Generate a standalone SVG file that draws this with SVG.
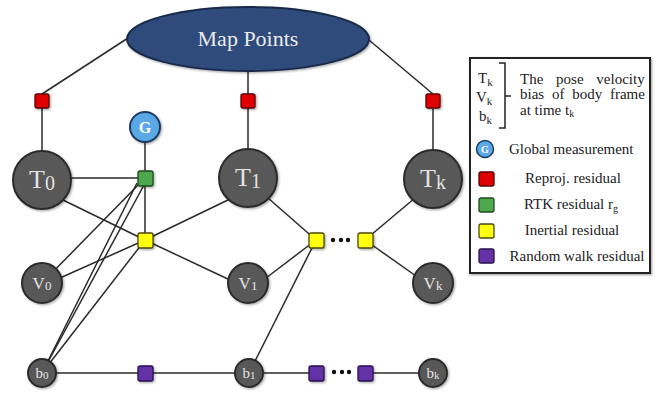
<svg xmlns="http://www.w3.org/2000/svg" width="662" height="397" viewBox="0 0 662 397">
<style>
.e{stroke:#2a2a2a;stroke-width:1.5;fill:none}
.n{fill:#595959;stroke:#2b2b2b;stroke-width:2}
.nt{font-family:"Liberation Serif","Times New Roman",serif;fill:#e2e2e2;text-anchor:middle}
.sq{stroke-width:1.3}
.red{fill:#e00000;stroke:#5a0000}
.grn{fill:#4ea84e;stroke:#1f4a1f}
.yel{fill:#ffff10;stroke:#4a4a10}
.pur{fill:#6431a6;stroke:#2a1250}
.lt{font-family:"Liberation Serif","Times New Roman",serif;font-size:15px;fill:#222}
.dot{fill:#111}
</style>
<defs>
<filter id="sh" x="-30%" y="-30%" width="160%" height="160%">
<feDropShadow dx="1.2" dy="1.2" stdDeviation="1" flood-color="#000" flood-opacity="0.35"/>
</filter>
</defs>

<g id="connectors">
<line class="e" x1="42" y1="94" x2="128" y2="38"/>
<line class="e" x1="433" y1="94" x2="369" y2="40"/>
<line class="e" x1="248" y1="70" x2="248" y2="101"/>
<line class="e" x1="42" y1="101" x2="42" y2="180"/>
<line class="e" x1="248" y1="101" x2="248" y2="178"/>
<line class="e" x1="433" y1="101" x2="433" y2="179"/>
<line class="e" x1="145" y1="127" x2="145" y2="240"/>
<line class="e" x1="42" y1="178" x2="145" y2="178"/>
<line class="e" x1="145" y1="178" x2="42" y2="283"/>
<line class="e" x1="137" y1="183" x2="42" y2="373"/>
<line class="e" x1="144" y1="185" x2="42" y2="373"/>
<line class="e" x1="63" y1="200" x2="145" y2="240"/>
<line class="e" x1="60" y1="278" x2="145" y2="240"/>
<line class="e" x1="42" y1="373" x2="145" y2="240"/>
<line class="e" x1="145" y1="240" x2="230" y2="199"/>
<line class="e" x1="145" y1="240" x2="230" y2="280"/>
<line class="e" x1="316" y1="240" x2="268" y2="198"/>
<line class="e" x1="316" y1="240" x2="266" y2="278"/>
<line class="e" x1="316" y1="240" x2="249" y2="373"/>
<line class="e" x1="365" y1="240" x2="415" y2="198"/>
<line class="e" x1="365" y1="240" x2="416" y2="276"/>
<line class="e" x1="42" y1="373" x2="249" y2="373"/>
<line class="e" x1="249" y1="373" x2="316" y2="373"/>
<line class="e" x1="365" y1="373" x2="433" y2="373"/>
<circle class="dot" cx="333" cy="240" r="2.2"/>
<circle class="dot" cx="341" cy="240" r="2.2"/>
<circle class="dot" cx="348" cy="240" r="2.2"/>
<circle class="dot" cx="334" cy="372" r="2.2"/>
<circle class="dot" cx="342" cy="372" r="2.2"/>
<circle class="dot" cx="349" cy="372" r="2.2"/>
</g>

<g id="mappoints">
<ellipse cx="248" cy="39" rx="121" ry="32" fill="#2d4b7c" stroke="#1a2b4a" stroke-width="2" filter="url(#sh)"/>
<text x="248" y="46" font-family="'Liberation Serif','Times New Roman',serif" font-size="22" fill="#ececec" text-anchor="middle">Map Points</text>
</g>

<g id="r0"><rect class="sq red" x="35" y="94" width="14" height="14" rx="2" filter="url(#sh)"/></g>
<g id="r1"><rect class="sq red" x="241" y="94" width="14" height="14" rx="2" filter="url(#sh)"/></g>
<g id="rk"><rect class="sq red" x="426" y="94" width="14" height="14" rx="2" filter="url(#sh)"/></g>

<g id="G">
<circle cx="145" cy="127" r="15" fill="#5aa9e6" stroke="#1d3a60" stroke-width="2" filter="url(#sh)"/>
<text x="145" y="133" font-family="'Liberation Serif','Times New Roman',serif" font-size="16" font-weight="bold" fill="#fff" text-anchor="middle">G</text>
</g>

<g id="T0">
<circle class="n" cx="42" cy="180" r="29" filter="url(#sh)"/>
<text class="nt" x="42" y="188" font-size="26">T<tspan font-size="20" dy="2">0</tspan></text>
</g>
<g id="T1">
<circle class="n" cx="248" cy="178" r="29" filter="url(#sh)"/>
<text class="nt" x="248" y="186" font-size="26">T<tspan font-size="20" dy="2">1</tspan></text>
</g>
<g id="Tk">
<circle class="n" cx="433" cy="179" r="29" filter="url(#sh)"/>
<text class="nt" x="433" y="187" font-size="26">T<tspan font-size="20" dy="2">k</tspan></text>
</g>

<g id="V0">
<circle class="n" cx="42" cy="283" r="20" filter="url(#sh)"/>
<text class="nt" x="42" y="289" font-size="17">V<tspan font-size="13" dy="1">0</tspan></text>
</g>
<g id="V1">
<circle class="n" cx="248" cy="283" r="20" filter="url(#sh)"/>
<text class="nt" x="248" y="289" font-size="17">V<tspan font-size="13" dy="1">1</tspan></text>
</g>
<g id="Vk">
<circle class="n" cx="433" cy="283" r="20" filter="url(#sh)"/>
<text class="nt" x="433" y="289" font-size="17">V<tspan font-size="13" dy="1">k</tspan></text>
</g>

<g id="b0">
<circle class="n" cx="42" cy="373" r="14" filter="url(#sh)"/>
<text class="nt" x="42" y="378" font-size="15">b<tspan font-size="11" dy="1">0</tspan></text>
</g>
<g id="b1">
<circle class="n" cx="249" cy="373" r="14" filter="url(#sh)"/>
<text class="nt" x="249" y="378" font-size="15">b<tspan font-size="11" dy="1">1</tspan></text>
</g>
<g id="bk">
<circle class="n" cx="433" cy="373" r="14" filter="url(#sh)"/>
<text class="nt" x="433" y="378" font-size="15">b<tspan font-size="11" dy="1">k</tspan></text>
</g>

<g id="rtk"><rect class="sq grn" x="138" y="171" width="15" height="15" rx="2" filter="url(#sh)"/></g>
<g id="in1"><rect class="sq yel" x="138" y="233" width="15" height="15" rx="2" filter="url(#sh)"/></g>
<g id="in2"><rect class="sq yel" x="309" y="233" width="15" height="15" rx="2" filter="url(#sh)"/></g>
<g id="in3"><rect class="sq yel" x="358" y="233" width="15" height="15" rx="2" filter="url(#sh)"/></g>
<g id="rw1"><rect class="sq pur" x="138" y="366" width="15" height="15" rx="2" filter="url(#sh)"/></g>
<g id="rw2"><rect class="sq pur" x="309" y="366" width="15" height="15" rx="2" filter="url(#sh)"/></g>
<g id="rw3"><rect class="sq pur" x="358" y="366" width="15" height="15" rx="2" filter="url(#sh)"/></g>

<g id="legend">
<rect x="470" y="58" width="180" height="215" fill="#fff" stroke="#222" stroke-width="2" filter="url(#sh)"/>
<text class="lt" x="478" y="83" font-size="19">T<tspan font-size="11" dy="3">k</tspan></text>
<text class="lt" x="476" y="102" font-size="19">V<tspan font-size="11" dy="3">k</tspan></text>
<text class="lt" x="479" y="121" font-size="19">b<tspan font-size="11" dy="3">k</tspan></text>
<path d="M499,63 H505 V128 H499 M505,96 H511" fill="none" stroke="#222" stroke-width="1.5"/>
<text class="lt" x="520" y="83.5" font-size="14" word-spacing="9">The pose velocity</text>
<text class="lt" x="520" y="99" font-size="14" word-spacing="4">bias of body frame</text>
<text class="lt" x="520" y="114.5" font-size="14">at time t<tspan font-size="10" dy="2">k</tspan></text>
<circle cx="485" cy="149" r="8.5" fill="#5aa9e6" stroke="#1d3a60" stroke-width="1.5"/>
<text x="485" y="153" font-family="'Liberation Serif',serif" font-size="10" font-weight="bold" fill="#fff" text-anchor="middle">G</text>
<text class="lt" x="509" y="154">Global measurement</text>
<rect class="sq red" x="479" y="172" width="15" height="14" rx="2"/>
<text class="lt" x="573" y="183" text-anchor="middle">Reproj. residual</text>
<rect class="sq grn" x="479" y="198" width="15" height="14" rx="2"/>
<text class="lt" x="571" y="209" text-anchor="middle">RTK residual r<tspan font-size="10" dy="3">g</tspan></text>
<rect class="sq yel" x="479" y="224" width="15" height="14" rx="2"/>
<text class="lt" x="572" y="235" text-anchor="middle">Inertial residual</text>
<rect class="sq pur" x="479" y="249" width="15" height="14" rx="2"/>
<text class="lt" x="577" y="261" text-anchor="middle">Random walk residual</text>
</g>
</svg>
